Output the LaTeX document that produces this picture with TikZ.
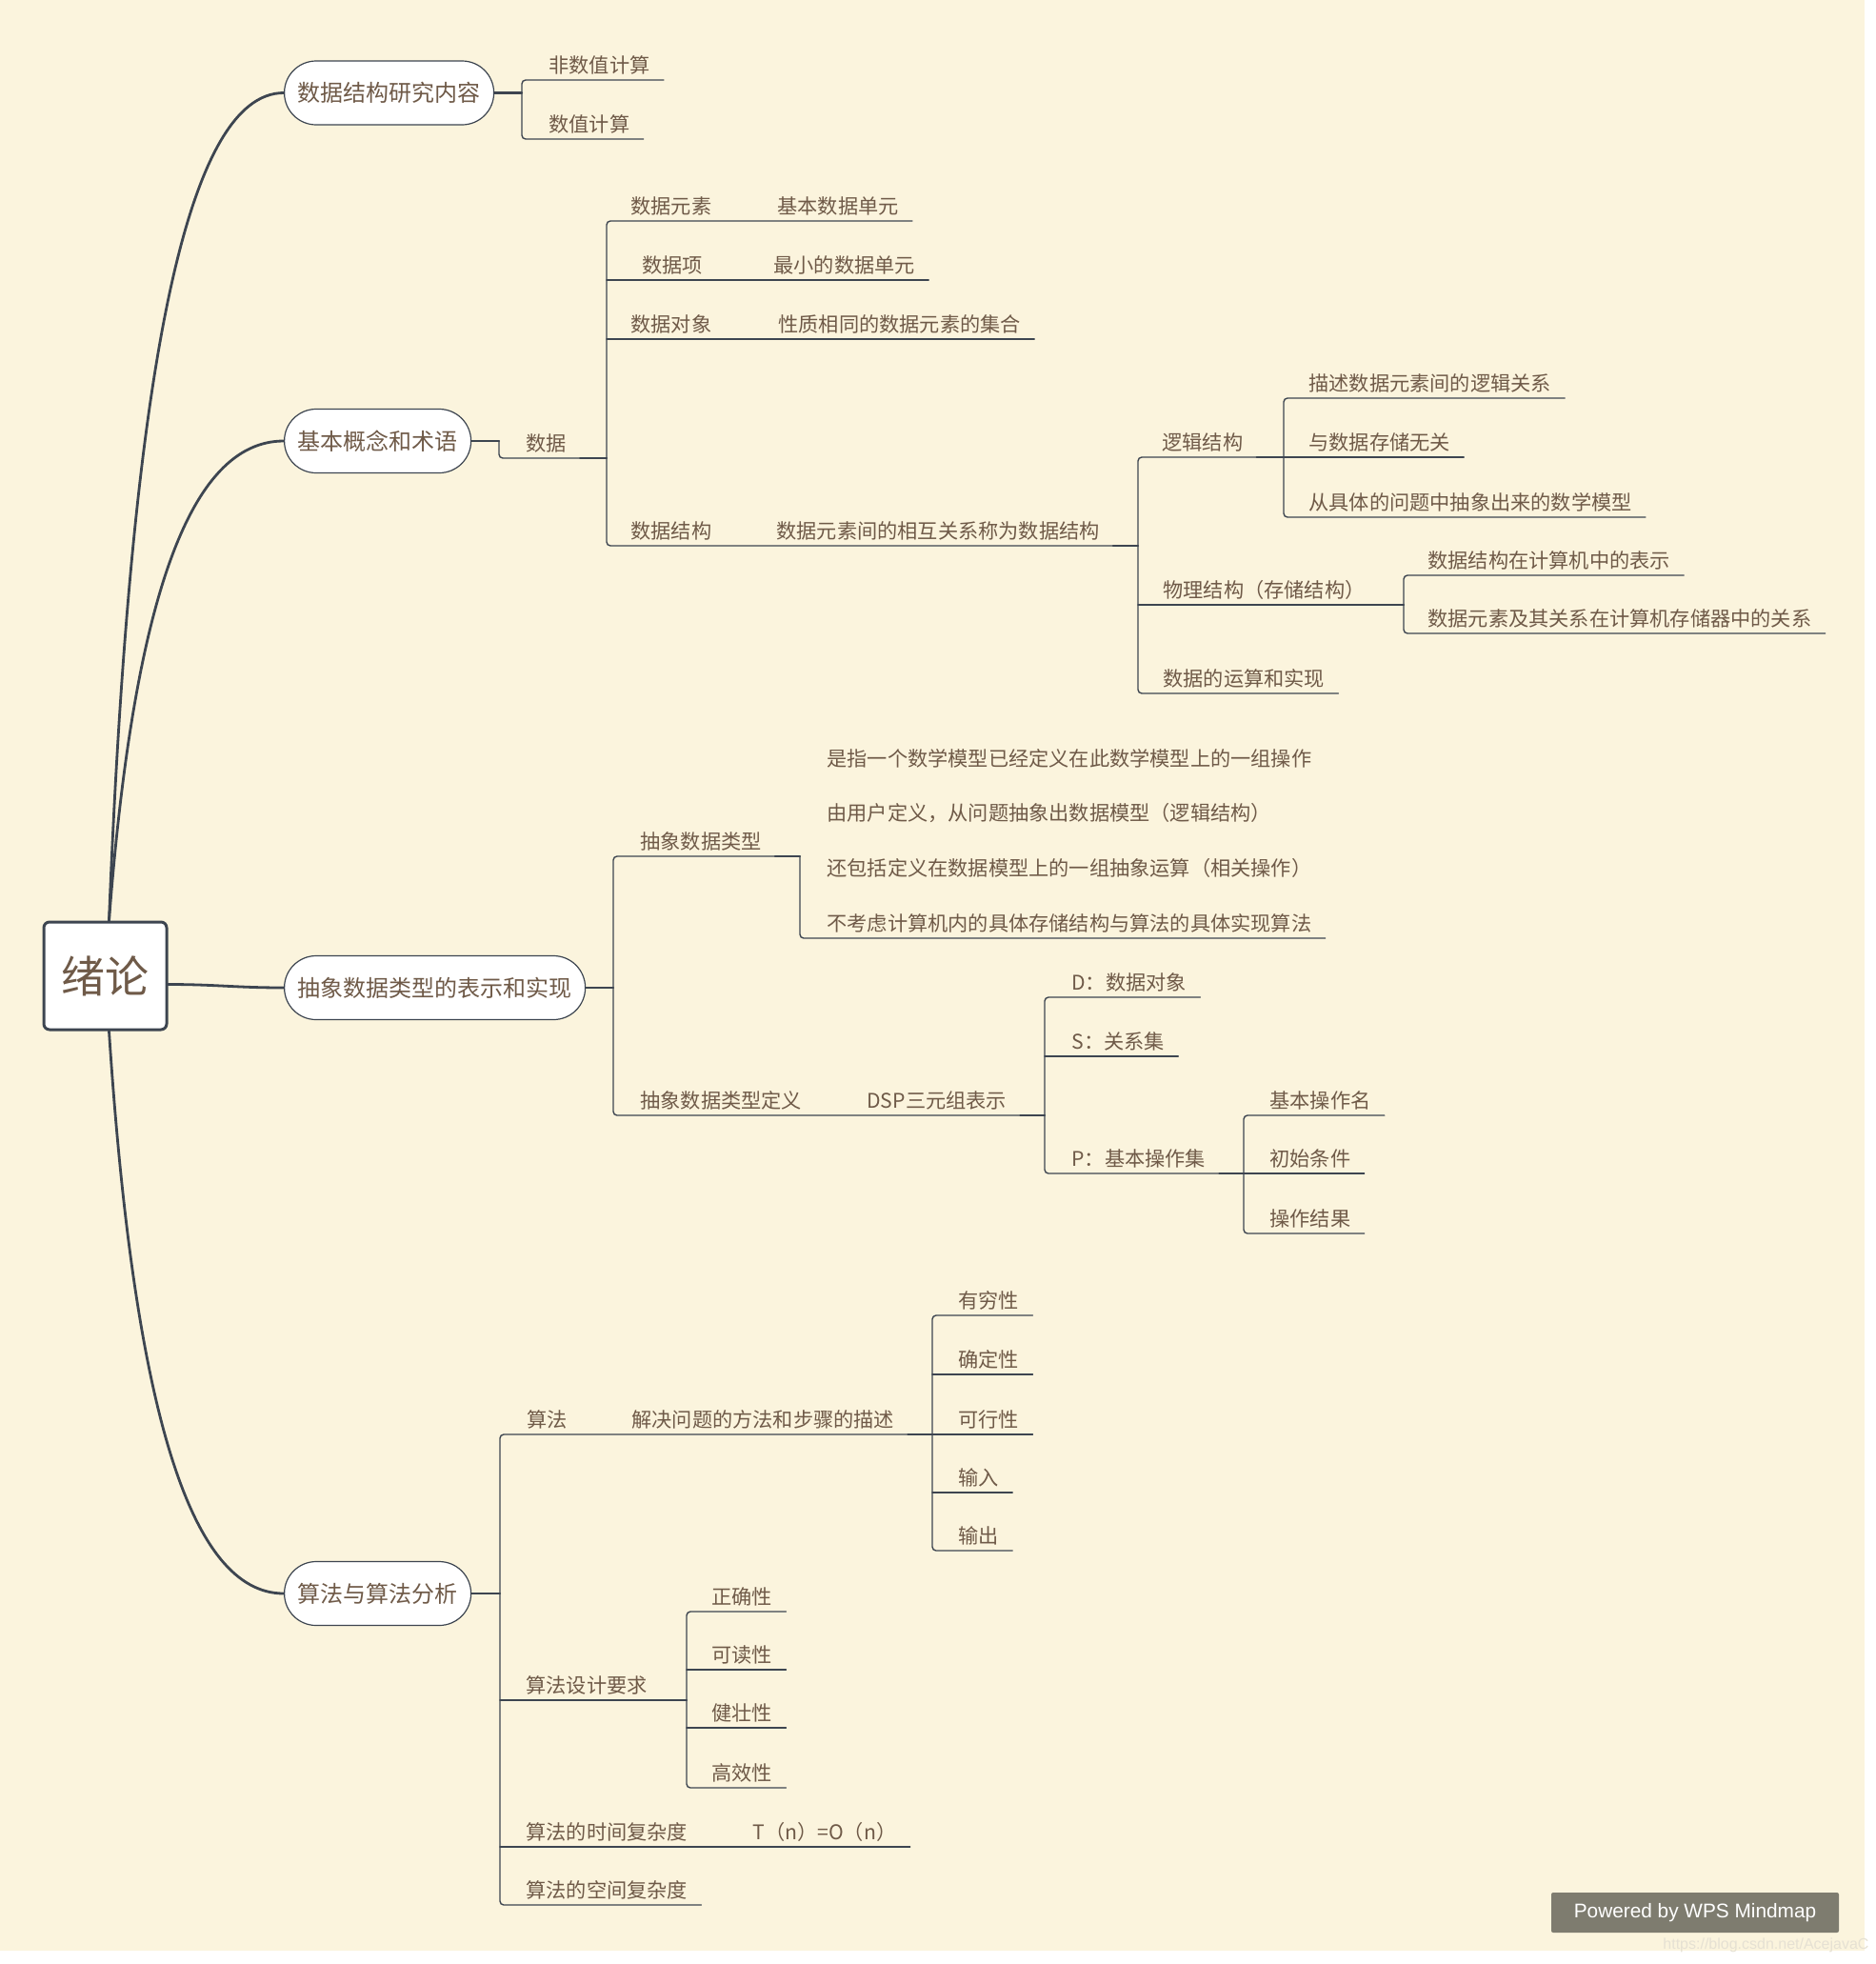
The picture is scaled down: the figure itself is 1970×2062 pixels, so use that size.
\documentclass[tikz,border=0pt]{standalone}
\usepackage{fontspec}
\newfontfamily\cjk{Noto Sans CJK SC}
\newfontfamily\wpsfont{Liberation Sans}
\definecolor{paper}{HTML}{FBF4DD}
\definecolor{ink}{HTML}{3D4550}
\definecolor{txt}{HTML}{6F5A48}
\definecolor{badge}{HTML}{7E7C6F}
\definecolor{faint}{HTML}{E6E1D3}

\begin{document}
\begin{tikzpicture}[line cap=round,line join=round,x=0.5pt,y=-0.5pt,
    root/.style={draw=ink,line width=1.5pt,fill=white,rounded corners=3pt,minimum width=64.5pt,
      minimum height=56.5pt,inner sep=0pt,text=txt,font=\cjk\fontsize{23pt}{27pt}\selectfont},
    main/.style={draw=ink,line width=0.6pt,fill=white,rounded corners=16.7pt,minimum height=33.5pt,
      inner xsep=7pt,anchor=west,text=txt,font=\cjk\fontsize{12pt}{14pt}\selectfont},
    leaf/.style={anchor=south west,inner sep=0pt,text depth=3.75pt,text=txt,
      font=\cjk\fontsize{10.6pt}{13pt}\selectfont},
    uline/.style={draw=ink,line width=0.7pt,rounded corners=2pt},
    stub/.style={draw=ink,line width=1.1pt},
    limb/.style={draw=ink,line width=1.4pt}]
  \fill[white] (0,0) rectangle (1970,2062);
  \fill[paper] (0,0) rectangle (1958,2048);
  \useasboundingbox (0,0) rectangle (1970,2062);

  %%%% ROOT
  \node[root] (root) at (110.5,1024.5) {绪论};

  %%%% MAIN TOPICS
  \node[main] (n1) at (298,97.5) {数据结构研究内容};
  \node[main] (n2) at (298,463) {基本概念和术语};
  \node[main] (n3) at (298,1037) {抽象数据类型的表示和实现};
  \node[main] (n4) at (298,1673) {算法与算法分析};
  \draw[limb] ([xshift=2pt]root.north) .. controls +(23,-580) and +(-102,0) .. (n1.west);
  \draw[limb] ([xshift=2pt]root.north) .. controls +(26,-337) and +(-99,0) .. (n2.west);
  \draw[limb] ([yshift=-4.5pt]root.east) .. controls +(50,0) and +(-50,0) .. (n3.west);
  \draw[limb] ([xshift=2pt]root.south) .. controls +(26,395) and +(-99,0) .. (n4.west);

  %%%% CONTENT
  \coordinate (k1) at (548,97.5);
  \node[leaf] (a1) at (576,84) {非数值计算};
  \node[leaf] (a2) at (576,146) {数值计算};
  \draw[stub] (n1.east) -- (k1);
  \draw[uline] ([xshift=7pt]a1.south east) -- (a1.south -| k1) -- (a2.south -| k1) -- ([xshift=7pt]a2.south east);

  %%%% TERMS
  \coordinate (k2) at (524,463);
  \node[leaf] (d0) at (552,481) {数据};
  \coordinate (k3) at (637,481);
  \draw[stub] (n2.east) -- (k2);
  \draw[uline] (k2) |- ([xshift=7pt]d0.south east);
  \draw[stub] ([xshift=7pt]d0.south east) -- (k3);

  \node[leaf] (b1) at (662,232) {数据元素};
  \node[leaf] (c1) at (816,232) {基本数据单元};
  \node[leaf] (b2) at (674,294) {数据项};
  \node[leaf] (c2) at (812,294) {最小的数据单元};
  \node[leaf] (b3) at (662,356) {数据对象};
  \node[leaf] (c3) at (817,356) {性质相同的数据元素的集合};
  \node[leaf] (b4) at (662,573) {数据结构};
  \node[leaf] (c4) at (815,573) {数据元素间的相互关系称为数据结构};
  \coordinate (k4) at (1195,573);
  \draw[uline] ([xshift=7pt]c1.south east) -- (b1.south -| k3) -- (b4.south -| k3) -- ([xshift=7pt]c4.south east);
  \draw[uline] (b2.south -| k3) -- ([xshift=7pt]c2.south east);
  \draw[uline] (b3.south -| k3) -- ([xshift=7pt]c3.south east);
  \draw[stub] ([xshift=7pt]c4.south east) -- (k4);

  \node[leaf] (e1) at (1220,480) {逻辑结构};
  \node[leaf] (e2) at (1221,635) {物理结构（存储结构）};
  \node[leaf] (e3) at (1221,728) {数据的运算和实现};
  \coordinate (k5) at (1348,480);
  \coordinate (k6) at (1474,635);
  \draw[uline] ([xshift=7pt]e1.south east) -- (e1.south -| k4) -- (e3.south -| k4) -- ([xshift=7pt]e3.south east);
  \draw[uline] (e2.south -| k4) -- ([xshift=7pt]e2.south east);
  \draw[stub] ([xshift=7pt]e1.south east) -- (k5);
  \draw[stub] ([xshift=7pt]e2.south east) -- (k6);

  \node[leaf] (f1) at (1374,418) {描述数据元素间的逻辑关系};
  \node[leaf] (f2) at (1374,480) {与数据存储无关};
  \node[leaf] (f3) at (1374,543) {从具体的问题中抽象出来的数学模型};
  \draw[uline] ([xshift=7pt]f1.south east) -- (f1.south -| k5) -- (f3.south -| k5) -- ([xshift=7pt]f3.south east);
  \draw[uline] (f2.south -| k5) -- ([xshift=7pt]f2.south east);

  \node[leaf] (g1) at (1499,604) {数据结构在计算机中的表示};
  \node[leaf] (g2) at (1499,665) {数据元素及其关系在计算机存储器中的关系};
  \draw[uline] ([xshift=7pt]g1.south east) -- (g1.south -| k6) -- (g2.south -| k6) -- ([xshift=7pt]g2.south east);

  %%%% ADT
  \coordinate (k7) at (644,1037);
  \draw[stub] (n3.east) -- (k7);
  \node[leaf] (h1) at (672,899) {抽象数据类型};
  \node[leaf] (h2) at (672,1171) {抽象数据类型定义};
  \node[leaf] (h3) at (910,1171) {DSP三元组表示};
  \coordinate (k8) at (840,899);
  \coordinate (k9) at (1097,1171);
  \draw[uline] ([xshift=7pt]h1.south east) -- (h1.south -| k7) -- (h2.south -| k7) -- ([xshift=7pt]h3.south east);
  \draw[stub] ([xshift=7pt]h1.south east) -- (k8);
  \draw[stub] ([xshift=7pt]h3.south east) -- (k9);

  \node[leaf,font=\cjk\fontsize{10.6pt}{28.85pt}\selectfont] (h4) at (868,985) {\begin{tabular}[b]{@{}l@{}}
    是指一个数学模型已经定义在此数学模型上的一组操作\\
    由用户定义，从问题抽象出数据模型（逻辑结构）\\
    还包括定义在数据模型上的一组抽象运算（相关操作）\\
    不考虑计算机内的具体存储结构与算法的具体实现算法\end{tabular}};
  \draw[uline] (k8) |- ([xshift=7pt]h4.south east);

  \node[leaf] (i1) at (1125,1047) {D：数据对象};
  \node[leaf] (i2) at (1125,1109) {S：关系集};
  \node[leaf] (i3) at (1125,1232) {P：基本操作集};
  \coordinate (k10) at (1306,1232);
  \draw[uline] ([xshift=7pt]i1.south east) -- (i1.south -| k9) -- (i3.south -| k9) -- ([xshift=7pt]i3.south east);
  \draw[uline] (i2.south -| k9) -- ([xshift=7pt]i2.south east);
  \draw[stub] ([xshift=7pt]i3.south east) -- (k10);

  \node[leaf] (j1) at (1333,1171) {基本操作名};
  \node[leaf] (j2) at (1333,1232) {初始条件};
  \node[leaf] (j3) at (1333,1295) {操作结果};
  \draw[uline] ([xshift=7pt]j1.south east) -- (j1.south -| k10) -- (j3.south -| k10) -- ([xshift=7pt]j3.south east);
  \draw[uline] (j2.south -| k10) -- ([xshift=7pt]j2.south east);

  %%%% ALGORITHMS
  \coordinate (k11) at (525,1673);
  \draw[stub] (n4.east) -- (k11);
  \node[leaf] (l1) at (553,1506) {算法};
  \node[leaf] (m1) at (663,1506) {解决问题的方法和步骤的描述};
  \node[leaf] (l2) at (552,1785) {算法设计要求};
  \node[leaf] (l3) at (552,1939) {算法的时间复杂度};
  \node[leaf] (m3) at (790,1939) {T（n）=O（n）};
  \node[leaf] (l4) at (552,2000) {算法的空间复杂度};
  \coordinate (k12) at (979,1506);
  \coordinate (k13) at (721,1785);
  \draw[uline] ([xshift=7pt]m1.south east) -- (l1.south -| k11) -- (l4.south -| k11) -- ([xshift=7pt]l4.south east);
  \draw[uline] (l2.south -| k11) -- ([xshift=7pt]l2.south east);
  \draw[uline] (l3.south -| k11) -- ([xshift=7pt]m3.south east);
  \draw[stub] ([xshift=7pt]m1.south east) -- (k12);
  \draw[stub] ([xshift=7pt]l2.south east) -- (k13);

  \node[leaf] (p1) at (1006,1381) {有穷性};
  \node[leaf] (p2) at (1006,1443) {确定性};
  \node[leaf] (p3) at (1006,1506) {可行性};
  \node[leaf] (p4) at (1006,1567) {输入};
  \node[leaf] (p5) at (1006,1628) {输出};
  \draw[uline] ([xshift=7pt]p1.south east) -- (p1.south -| k12) -- (p5.south -| k12) -- ([xshift=7pt]p5.south east);
  \draw[uline] (p2.south -| k12) -- ([xshift=7pt]p2.south east);
  \draw[uline] (p3.south -| k12) -- ([xshift=7pt]p3.south east);
  \draw[uline] (p4.south -| k12) -- ([xshift=7pt]p4.south east);

  \node[leaf] (q1) at (747,1692) {正确性};
  \node[leaf] (q2) at (747,1753) {可读性};
  \node[leaf] (q3) at (747,1814) {健壮性};
  \node[leaf] (q4) at (747,1877) {高效性};
  \draw[uline] ([xshift=7pt]q1.south east) -- (q1.south -| k13) -- (q4.south -| k13) -- ([xshift=7pt]q4.south east);
  \draw[uline] (q2.south -| k13) -- ([xshift=7pt]q2.south east);
  \draw[uline] (q3.south -| k13) -- ([xshift=7pt]q3.south east);

  %%%% WATERMARK
  \node[fill=badge,rounded corners=1pt,minimum width=151pt,minimum height=21pt,inner sep=0pt,
    text=white,font=\wpsfont\fontsize{10.4pt}{12pt}\selectfont] (wps) at (1780,2008) {Powered by WPS Mindmap};
  \node[anchor=west,inner sep=0pt,text=faint,font=\wpsfont\fontsize{8pt}{10pt}\selectfont] (url) at (1746,2042) {https://blog.csdn.net/AcejavaC};
\end{tikzpicture}
\end{document}
